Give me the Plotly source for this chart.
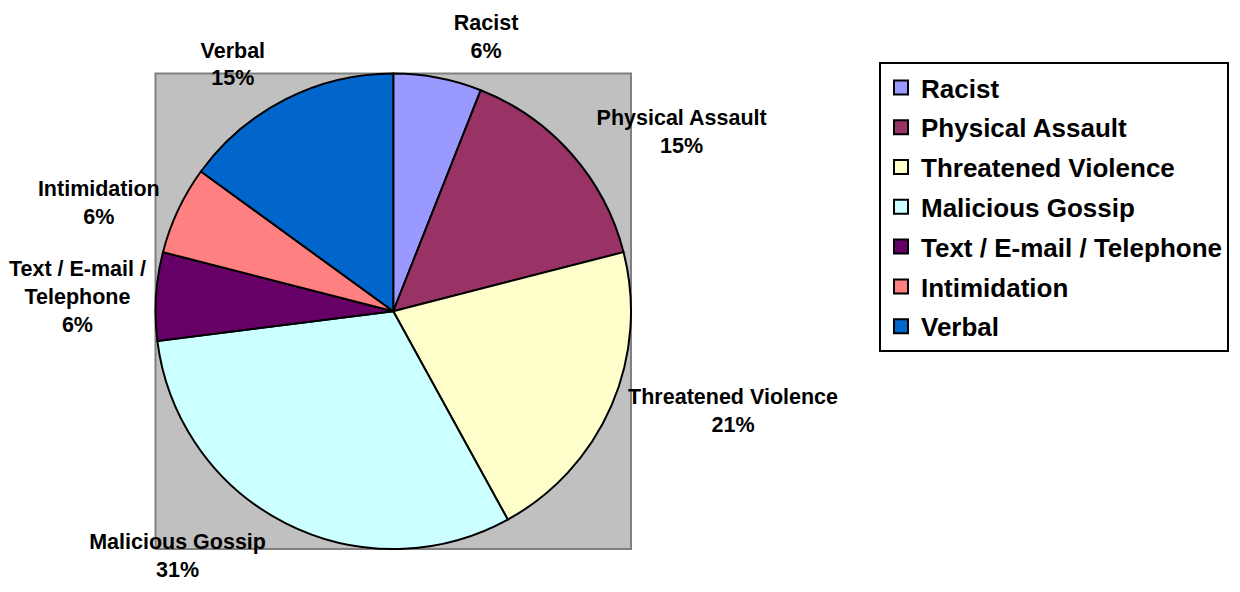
import plotly.graph_objects as go

categories = ["Racist", "Physical Assault", "Threatened Violence", "Malicious Gossip",
              "Text / E-mail / Telephone", "Intimidation", "Verbal"]
slice_text = ["Racist", "Physical Assault", "Threatened Violence", "Malicious Gossip",
              "Text / E-mail /<br>Telephone", "Intimidation", "Verbal"]
values = [6, 15, 21, 31, 6, 6, 15]
colors = ["#9999FF", "#993366", "#FFFFCC", "#CCFFFF", "#660066", "#FF8080", "#0066CC"]

W, H = 1240, 592
FONT = "Liberation Sans, Arial"

# plot-area square (pixels in figure coordinates)
L, R, T, B = 147.5, 623.0, 65.5, 541.0
CX, CY = (L + R) / 2, (T + B) / 2
PIE_R = (R - L) / 2

# data-label placement (style): base label radius and extra outward offset per label (px)
LABEL_BASE_R = PIE_R - 10
label_offset_px = [26, 26, 14, 24, 0, 16, 26]
label_pull = [p / LABEL_BASE_R for p in label_offset_px]
half = LABEL_BASE_R * (1 + max(label_pull))


def dom(l, r, t, b):
    return dict(x=[l / W, r / W], y=[(H - b) / H, (H - t) / H])


fig = go.Figure()
# visible pie
fig.add_trace(go.Pie(
    labels=categories, values=values,
    marker=dict(colors=colors, line=dict(color="black", width=2)),
    sort=False, direction="clockwise", rotation=0,
    textinfo="none", domain=dom(L, R, T, B),
    showlegend=False, hoverinfo="label+percent",
))
# transparent concentric pie carrying the outside data labels
fig.add_trace(go.Pie(
    labels=categories, values=values, text=slice_text, pull=label_pull,
    marker=dict(colors=["rgba(0,0,0,0)"] * len(values), line=dict(width=0)),
    sort=False, direction="clockwise", rotation=0,
    textposition="outside", texttemplate="%{text}<br>%{percent}",
    textfont=dict(family=FONT, size=21.5, color="black", weight="bold"),
    domain=dom(CX - half, CX + half, CY - half, CY + half),
    showlegend=False, hoverinfo="skip",
))

for i, (c, col) in enumerate(zip(categories, colors)):
    fig.add_trace(go.Scatter(
        x=[None], y=[None], mode="markers", name=c, legendgroup=f"g{i}",
        marker=dict(symbol="square", size=14, color=col, line=dict(color="black", width=2)),
        showlegend=True, hoverinfo="skip",
    ))

fig.add_shape(type="rect", xref="paper", yref="paper",
              x0=L / W, x1=R / W, y0=(H - B) / H, y1=(H - T) / H,
              fillcolor="#C0C0C0", line=dict(color="#808080", width=2), layer="below")

fig.update_layout(
    width=W, height=H, margin=dict(l=0, r=0, t=0, b=0, autoexpand=False),
    paper_bgcolor="white", plot_bgcolor="white",
    xaxis=dict(visible=False), yaxis=dict(visible=False),
    legend=dict(x=871 / W, y=(H - 54) / H, xanchor="left", yanchor="top",
                bordercolor="black", borderwidth=2, bgcolor="white",
                font=dict(family=FONT, size=26, color="black", weight="bold"),
                tracegroupgap=3, traceorder="grouped"),
)

fig.write_html("out.html")
